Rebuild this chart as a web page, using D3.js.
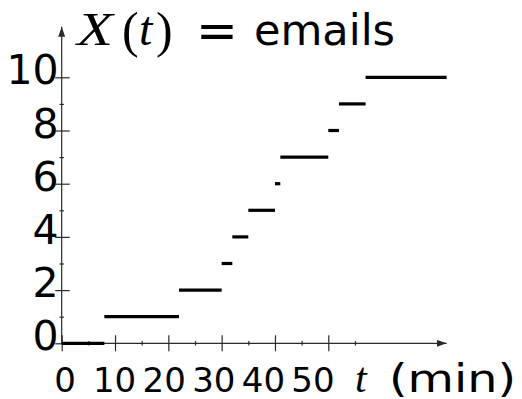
<!DOCTYPE html>
<html>
<head>
<meta charset="utf-8">
<script src="https://cdn.jsdelivr.net/npm/d3@7"></script>
<style>
  html, body { margin: 0; padding: 0; background: #fff; }
  svg { display: block; }
</style>
</head>
<body>
<div id="chart"></div>
<script>
// step function X(t): number of emails received by time t

const stepStarts = [0, 8, 22, 30, 32, 35, 40, 41, 50, 52, 57];
const stepEnds   = [8, 22, 30, 32, 35, 40, 41, 50, 52, 57, 72.2];
const stepLevels = [0, 1, 2, 3, 4, 5, 6, 7, 8, 9, 10];

const xMajorTicks = [0, 10, 20, 30, 40, 50];
const xMinorTicks = [5, 15, 25, 35, 45, 55];
const xTickLabels = ['0', '10', '20', '30', '40', '50'];
const yMajorTicks = [0, 2, 4, 6, 8, 10];
const yMinorTicks = [1, 3, 5, 7, 9];
const yTickLabels = ['0', '2', '4', '6', '8', '10'];

const xMax = 72.2;
const yMax = 11.9;

function renderStepChart(containerId) {
  const container = document.getElementById(containerId);
  const width = 522;
  const height = 399;

  const svg = d3.select(container)
    .append('svg')
    .attr('width', width)
    .attr('height', height);

  const x = d3.scaleLinear()
    .domain([0, 50])
    .range([61.7, 328.3]);

  const y = d3.scaleLinear()
    .domain([0, 10])
    .range([343.3, 77.3]);

  // labels under the x axis sit a bit tighter than the ticks
  const xLabel = d3.scaleLinear()
    .domain([0, 50])
    .range([65, 313]);

  const axisColor = '#2a2a2a';

  // arrow heads
  const defs = svg.append('defs');
  defs.append('marker')
    .attr('id', 'arrow')
    .attr('viewBox', '0 0 10 7')
    .attr('refX', 10)
    .attr('refY', 3.5)
    .attr('markerWidth', 10)
    .attr('markerHeight', 7)
    .attr('markerUnits', 'userSpaceOnUse')
    .attr('orient', 'auto')
    .append('path')
    .attr('d', 'M0,0 L10,3.5 L0,7 Z')
    .attr('fill', axisColor);

  // X axis line
  svg.append('line')
    .attr('x1', x(0)).attr('x2', x(xMax))
    .attr('y1', y(0)).attr('y2', y(0))
    .attr('stroke', axisColor)
    .attr('stroke-width', 1.2)
    .attr('marker-end', 'url(#arrow)');

  // Y axis line
  svg.append('line')
    .attr('x1', x(0)).attr('x2', x(0))
    .attr('y1', y(0)).attr('y2', y(yMax))
    .attr('stroke', axisColor)
    .attr('stroke-width', 1.2)
    .attr('marker-end', 'url(#arrow)');

  // X ticks (crossing the axis)
  const gx = svg.append('g')
    .attr('transform', `translate(0,${y(0)})`)
    .call(d3.axisBottom(x).tickValues(xMajorTicks).tickSize(8).tickFormat(''));
  gx.select('.domain').remove();
  gx.selectAll('.tick line').attr('y1', -8).attr('stroke', axisColor).attr('stroke-width', 1.2);

  const gxm = svg.append('g')
    .attr('transform', `translate(0,${y(0)})`)
    .call(d3.axisBottom(x).tickValues(xMinorTicks).tickSize(2.2).tickFormat(''));
  gxm.select('.domain').remove();
  gxm.selectAll('.tick line').attr('y1', -2.2).attr('stroke', axisColor).attr('stroke-width', 1.2);

  // X tick labels
  svg.selectAll('.xlabel')
    .data(xMajorTicks)
    .enter().append('text')
    .attr('class', 'xlabel')
    .attr('x', d => xLabel(d))
    .attr('y', 391.5)
    .attr('text-anchor', 'middle')
    .style('font-family', '"DejaVu Sans", sans-serif')
    .style('font-size', '34px')
    .text((d, i) => xTickLabels[i]);

  // Y ticks
  const gy = svg.append('g')
    .attr('transform', `translate(${x(0)},0)`)
    .call(d3.axisLeft(y).tickValues(yMajorTicks).tickSize(6.5)
      .tickFormat((d, i) => yTickLabels[i]));
  gy.select('.domain').remove();
  gy.selectAll('.tick line').attr('x1', 8).attr('stroke', axisColor).attr('stroke-width', 1.2);
  gy.selectAll('.tick text')
    .attr('x', -3)
    .attr('dy', '6.5px')
    .attr('fill', '#000')
    .style('font-family', '"DejaVu Sans", sans-serif')
    .style('font-size', '41px');

  const gym = svg.append('g')
    .attr('transform', `translate(${x(0)},0)`)
    .call(d3.axisLeft(y).tickValues(yMinorTicks).tickSize(2.2).tickFormat(''));
  gym.select('.domain').remove();
  gym.selectAll('.tick line').attr('x1', 2.2).attr('stroke', axisColor).attr('stroke-width', 1.2);

  // Steps
  const steps = stepLevels.map((v, i) => ({ start: stepStarts[i], end: stepEnds[i], level: v }));
  svg.selectAll('.step')
    .data(steps)
    .enter().append('line')
    .attr('class', 'step')
    .attr('x1', d => x(d.start))
    .attr('x2', d => x(d.end))
    .attr('y1', d => y(d.level))
    .attr('y2', d => y(d.level))
    .attr('stroke', '#000')
    .attr('stroke-width', 3.2);

  // Title: X(t) = emails
  const serif = '"Liberation Serif", "DejaVu Serif", serif';
  const sans = '"DejaVu Sans", sans-serif';
  svg.append('text')
    .attr('x', 77).attr('y', 45)
    .attr('textLength', 36).attr('lengthAdjust', 'spacingAndGlyphs')
    .style('font-family', serif).style('font-style', 'italic').style('font-size', '46px')
    .text('X');
  svg.append('text')
    .attr('x', 122).attr('y', 47)
    .style('font-family', serif).style('font-size', '50px')
    .text('(');
  svg.append('text')
    .attr('x', 139).attr('y', 45)
    .style('font-family', serif).style('font-style', 'italic').style('font-size', '48px')
    .text('t');
  svg.append('text')
    .attr('x', 156).attr('y', 47)
    .style('font-family', serif).style('font-size', '50px')
    .text(')');
  svg.append('text')
    .attr('x', 196).attr('y', 48)
    .style('font-family', sans).style('font-size', '50px')
    .text('=');
  svg.append('text')
    .attr('x', 254).attr('y', 45)
    .style('font-family', sans).style('font-size', '43px')
    .text('emails');

  // X axis label: t (min)
  svg.append('text')
    .attr('x', 355).attr('y', 391.5)
    .style('font-family', serif).style('font-style', 'italic').style('font-size', '42px')
    .text('t');
  svg.append('text')
    .attr('x', 389).attr('y', 391.5)
    .attr('textLength', 127)
    .attr('lengthAdjust', 'spacingAndGlyphs')
    .style('font-family', sans)
    .style('font-size', '39px')
    .text('(min)');
}

renderStepChart('chart');
</script>
</body>
</html>
